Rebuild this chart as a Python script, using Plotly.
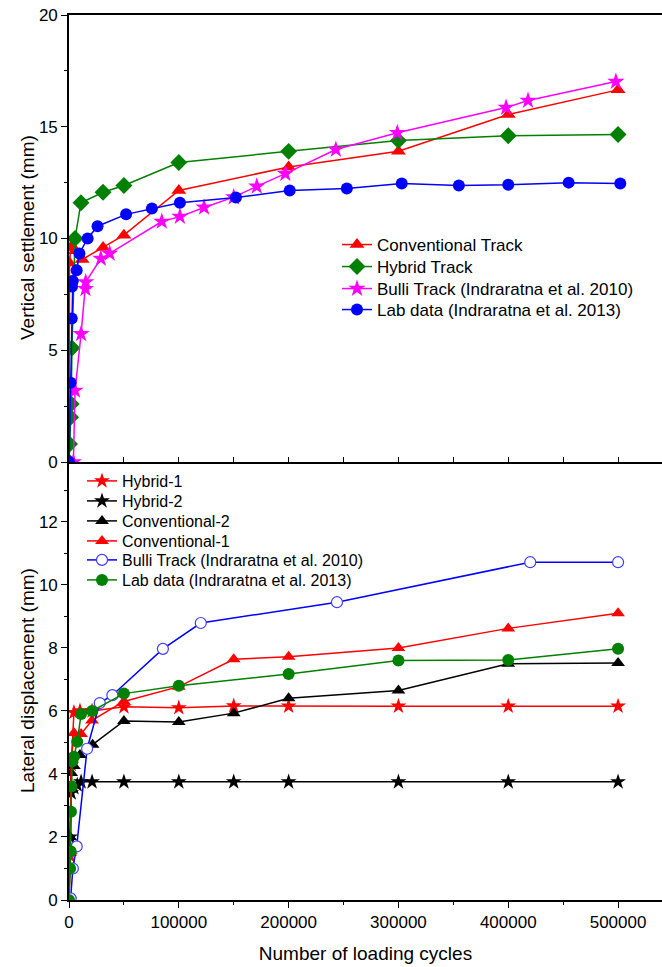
import plotly.graph_objects as go
from plotly.subplots import make_subplots

# ---------------- Top panel: vertical settlement ----------------
conv_x = [0, 500, 1500, 6000, 12000, 31000, 50000, 100000, 200000, 300000, 400000, 500000]
conv_y = [0, 8.9, 9.6, 9.45, 9.06, 9.6, 10.15, 12.15, 13.2, 13.9, 15.55, 16.65]

hyb_x = [0, 500, 1500, 2000, 2700, 5500, 10900, 31000, 50000, 100000, 200000, 300000, 400000, 500000]
hyb_y = [0, 0.8, 2.0, 2.6, 5.1, 10.0, 11.6, 12.07, 12.37, 13.4, 13.9, 14.38, 14.6, 14.65]

bulli_top_x = [4000, 5500, 11000, 15000, 15200, 29000, 37000, 84500, 101000, 123000, 150000,
               171000, 197000, 243000, 299000, 398000, 418000, 498000]
bulli_top_y = [0, 3.2, 5.73, 7.75, 8.05, 9.1, 9.33, 10.76, 10.98, 11.39, 11.85,
               12.33, 12.9, 13.98, 14.73, 15.86, 16.17, 17.02]

lab_top_x = [0, 1500, 2500, 2800, 3500, 7000, 9500, 17000, 26000, 52000, 75500, 101000,
             152000, 201000, 253000, 303000, 355000, 400000, 455000, 502000]
lab_top_y = [0, 3.55, 6.42, 7.85, 8.1, 8.58, 9.33, 10.0, 10.55, 11.08, 11.34, 11.6,
             11.83, 12.15, 12.24, 12.46, 12.37, 12.4, 12.5, 12.46]

# ---------------- Bottom panel: lateral displacement ----------------
h1_x = [0, 1000, 2000, 4500, 10000, 21000, 50000, 100000, 150000, 200000, 300000, 400000, 500000]
h1_y = [0, 1.4, 4.3, 5.95, 6.0, 6.0, 6.13, 6.1, 6.16, 6.15, 6.15, 6.15, 6.15]

h2_x = [0, 1000, 2000, 4500, 7500, 11000, 21000, 50000, 100000, 150000, 200000, 300000, 400000, 500000]
h2_y = [0, 2.0, 3.4, 3.56, 3.65, 3.75, 3.75, 3.75, 3.75, 3.75, 3.75, 3.75, 3.75, 3.75]

c2_x = [0, 1000, 2000, 4500, 10000, 21500, 50000, 100000, 150000, 200000, 300000, 400000, 500000]
c2_y = [0, 2.0, 4.03, 4.25, 4.6, 4.93, 5.68, 5.65, 5.93, 6.4, 6.65, 7.5, 7.52]

c1_x = [0, 1000, 2000, 4500, 11000, 21000, 50000, 100000, 150000, 200000, 300000, 400000, 500000]
c1_y = [0, 1.5, 4.4, 5.3, 5.27, 5.7, 6.3, 6.77, 7.64, 7.72, 8.0, 8.62, 9.1]

bulli_bot_x = [1500, 3500, 7000, 16500, 28000, 39500, 85500, 120000, 244000, 420000, 500000]
bulli_bot_y = [0.05, 1.0, 1.7, 4.8, 6.25, 6.5, 7.97, 8.79, 9.45, 10.72, 10.72]

lab_bot_x = [0, 1000, 1500, 1800, 2200, 3000, 4500, 7500, 11000, 21000, 50000, 100000,
             200000, 300000, 400000, 500000]
lab_bot_y = [0, 1.0, 1.55, 2.8, 3.6, 4.4, 4.55, 5.02, 5.9, 6.0, 6.55, 6.8,
             7.17, 7.6, 7.62, 7.97]

RED = "#FF0000"
GREEN = "#008000"
MAGENTA = "#FF00FF"
BLUE = "#0000FF"
BLACK = "#000000"
FONT = "Liberation Sans, Arial, sans-serif"

# page body margin is removed by post_script, so the figure fills the window
W, H = 662, 967
ML, MR, MT = 69, 0, 15
PH = 885
MB = H - MT - PH
PW = W - ML - MR


def px_x(page_x):
    return (page_x - ML) / PW


def px_y(page_y):
    return (H - MB - page_y) / PH


fig = make_subplots(rows=2, cols=1, shared_xaxes=True, vertical_spacing=0,
                    row_heights=[447, 438])

legend_layout = {}
counter = [0]


def add(x, y, name, color, symbol, size, row, leg_px_x, leg_px_y, fsize, open_marker=False):
    counter[0] += 1
    key = "legend" if counter[0] == 1 else "legend%d" % counter[0]
    marker = dict(symbol=symbol, size=size, color=color, line=dict(width=0))
    if open_marker:
        marker = dict(symbol="circle", size=size, color="white",
                      line=dict(color="#3d3dff", width=1.2))
    fig.add_trace(go.Scatter(x=x, y=y, name=name, mode="lines+markers",
                             line=dict(color=color, width=1.5), marker=marker,
                             legend=key, showlegend=True), row=row, col=1)
    legend_layout[key] = dict(
        x=px_x(leg_px_x), y=px_y(leg_px_y),
        xanchor="left", yanchor="middle",
        font=dict(family=FONT, size=fsize, color="#000000"),
        bgcolor="rgba(0,0,0,0)")


TOPX, BOTX = 337, 82
add(conv_x, conv_y, "Conventional Track", RED, "triangle-up", 13, 1, TOPX, 245, 17)
add(hyb_x, hyb_y, "Hybrid Track", GREEN, "diamond", 13, 1, TOPX, 267, 17)
add(bulli_top_x, bulli_top_y, "Bulli Track (Indraratna et al. 2010)", MAGENTA, "star", 13, 1, TOPX, 289, 17)
add(lab_top_x, lab_top_y, "Lab data (Indraratna et al. 2013)", BLUE, "circle", 12, 1, TOPX, 310, 17)

add(h1_x, h1_y, "Hybrid-1", RED, "star", 12, 2, BOTX, 481, 16)
add(h2_x, h2_y, "Hybrid-2", BLACK, "star", 12, 2, BOTX, 501, 16)
add(c2_x, c2_y, "Conventional-2", BLACK, "triangle-up", 12, 2, BOTX, 521, 16)
add(c1_x, c1_y, "Conventional-1", RED, "triangle-up", 12, 2, BOTX, 541, 16)
add(bulli_bot_x, bulli_bot_y, "Bulli Track (Indraratna et al. 2010)", BLUE, "circle", 11, 2, BOTX, 560, 16,
    open_marker=True)
add(lab_bot_x, lab_bot_y, "Lab data (Indraratna et al. 2013)", GREEN, "circle", 12, 2, BOTX, 580, 16)

axis_common = dict(showline=True, linecolor="#000000", linewidth=1.6, showgrid=False,
                   zeroline=False, tickcolor="#000000", automargin=False,
                   ticklabeloverflow="allow",
                   tickfont=dict(family=FONT, size=17, color="#000000"))

fig.update_xaxes(**axis_common, range=[0, 540000], row=1, col=1,
                 mirror=True, ticks="inside", ticklen=5, dtick=50000, showticklabels=False)
fig.update_xaxes(**axis_common, range=[0, 540000], row=2, col=1,
                 ticks="outside", ticklen=6, dtick=100000, tickformat="d",
                 minor=dict(ticks="outside", ticklen=3, dtick=50000, tickcolor="#000000"),
                 title=dict(text="Number of loading cycles",
                            font=dict(family=FONT, size=19, color="#000000")))
fig.update_yaxes(**axis_common, range=[0, 20], row=1, col=1,
                 ticks="outside", ticklen=6, dtick=5,
                 minor=dict(ticks="outside", ticklen=3, dtick=2.5, tickcolor="#000000"))
fig.update_yaxes(**axis_common, range=[0, 13.9], row=2, col=1,
                 ticks="outside", ticklen=6, dtick=2,
                 minor=dict(ticks="outside", ticklen=3, dtick=1, tickcolor="#000000"))

title_font = dict(family=FONT, size=19, color="#000000")
fig.add_annotation(text="Vertical settlement (mm)", xref="paper", yref="paper",
                   x=px_x(27), y=px_y(238), xanchor="center", yanchor="middle",
                   textangle=-90, showarrow=False, font=title_font)
fig.add_annotation(text="Lateral displacement (mm)", xref="paper", yref="paper",
                   x=px_x(27), y=px_y(681), xanchor="center", yanchor="middle",
                   textangle=-90, showarrow=False, font=title_font)

fig.update_layout(
    width=W, height=H,
    margin=dict(l=ML, r=MR, t=MT, b=MB),
    plot_bgcolor="white", paper_bgcolor="white",
    font=dict(family=FONT, color="#000000"),
    showlegend=True,
    **legend_layout,
)

fig.write_html("out.html",
               config={"displayModeBar": False},
               post_script="document.body.style.margin='0px';"
                           "document.body.style.overflow='hidden';")
